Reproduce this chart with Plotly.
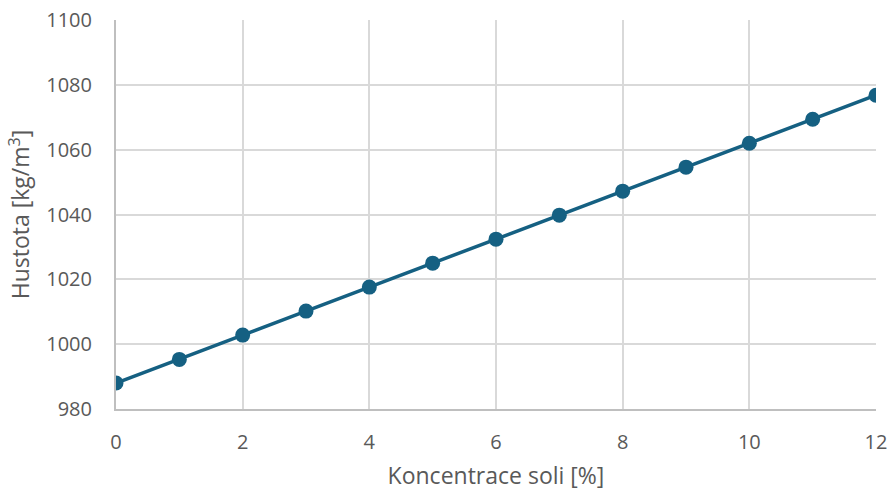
import plotly.graph_objects as go

# Salt concentration [%] and corresponding density [kg/m3]
koncentrace = [0, 1, 2, 3, 4, 5, 6, 7, 8, 9, 10, 11, 12]
hustota = [988.0, 995.3, 1002.8, 1010.2, 1017.6, 1025.0, 1032.4,
           1039.8, 1047.2, 1054.6, 1062.0, 1069.4, 1076.8]

x_ticks = [0, 2, 4, 6, 8, 10, 12]
y_ticks = [980, 1000, 1020, 1040, 1060, 1080, 1100]

line_color = "#156082"
grid_color = "#d9d9d9"
text_color = "#595959"
font_family = "Open Sans, Liberation Sans, sans-serif"

fig = go.Figure(
    go.Scatter(
        x=koncentrace,
        y=hustota,
        mode="lines+markers",
        line=dict(color=line_color, width=3.5),
        marker=dict(color=line_color, size=15),
        showlegend=False,
    )
)

fig.update_layout(
    width=890,
    height=491,
    margin=dict(l=116, r=14, t=20, b=82),
    paper_bgcolor="white",
    plot_bgcolor="white",
    font=dict(family=font_family, color=text_color, size=20),
)

fig.update_xaxes(
    range=[0, 12],
    tickvals=x_ticks,
    showgrid=True,
    gridcolor=grid_color,
    gridwidth=2,
    showline=True,
    linecolor="#bfbfbf",
    linewidth=2,
    zeroline=False,
    ticks="",
    automargin=False,
    ticklabelstandoff=14,
    tickfont=dict(size=20),
    title=dict(text="Koncentrace soli [%]", font=dict(size=23), standoff=16),
)

fig.update_yaxes(
    range=[980, 1100],
    tickvals=y_ticks,
    showgrid=True,
    gridcolor=grid_color,
    gridwidth=2,
    showline=True,
    linecolor="#bfbfbf",
    linewidth=2,
    zeroline=False,
    ticks="",
    automargin=False,
    ticklabelstandoff=18,
    tickfont=dict(size=20),
    title=dict(text="Hustota [kg/m<sup>3</sup>]", font=dict(size=23), standoff=10),
)

fig.write_html("out.html")
